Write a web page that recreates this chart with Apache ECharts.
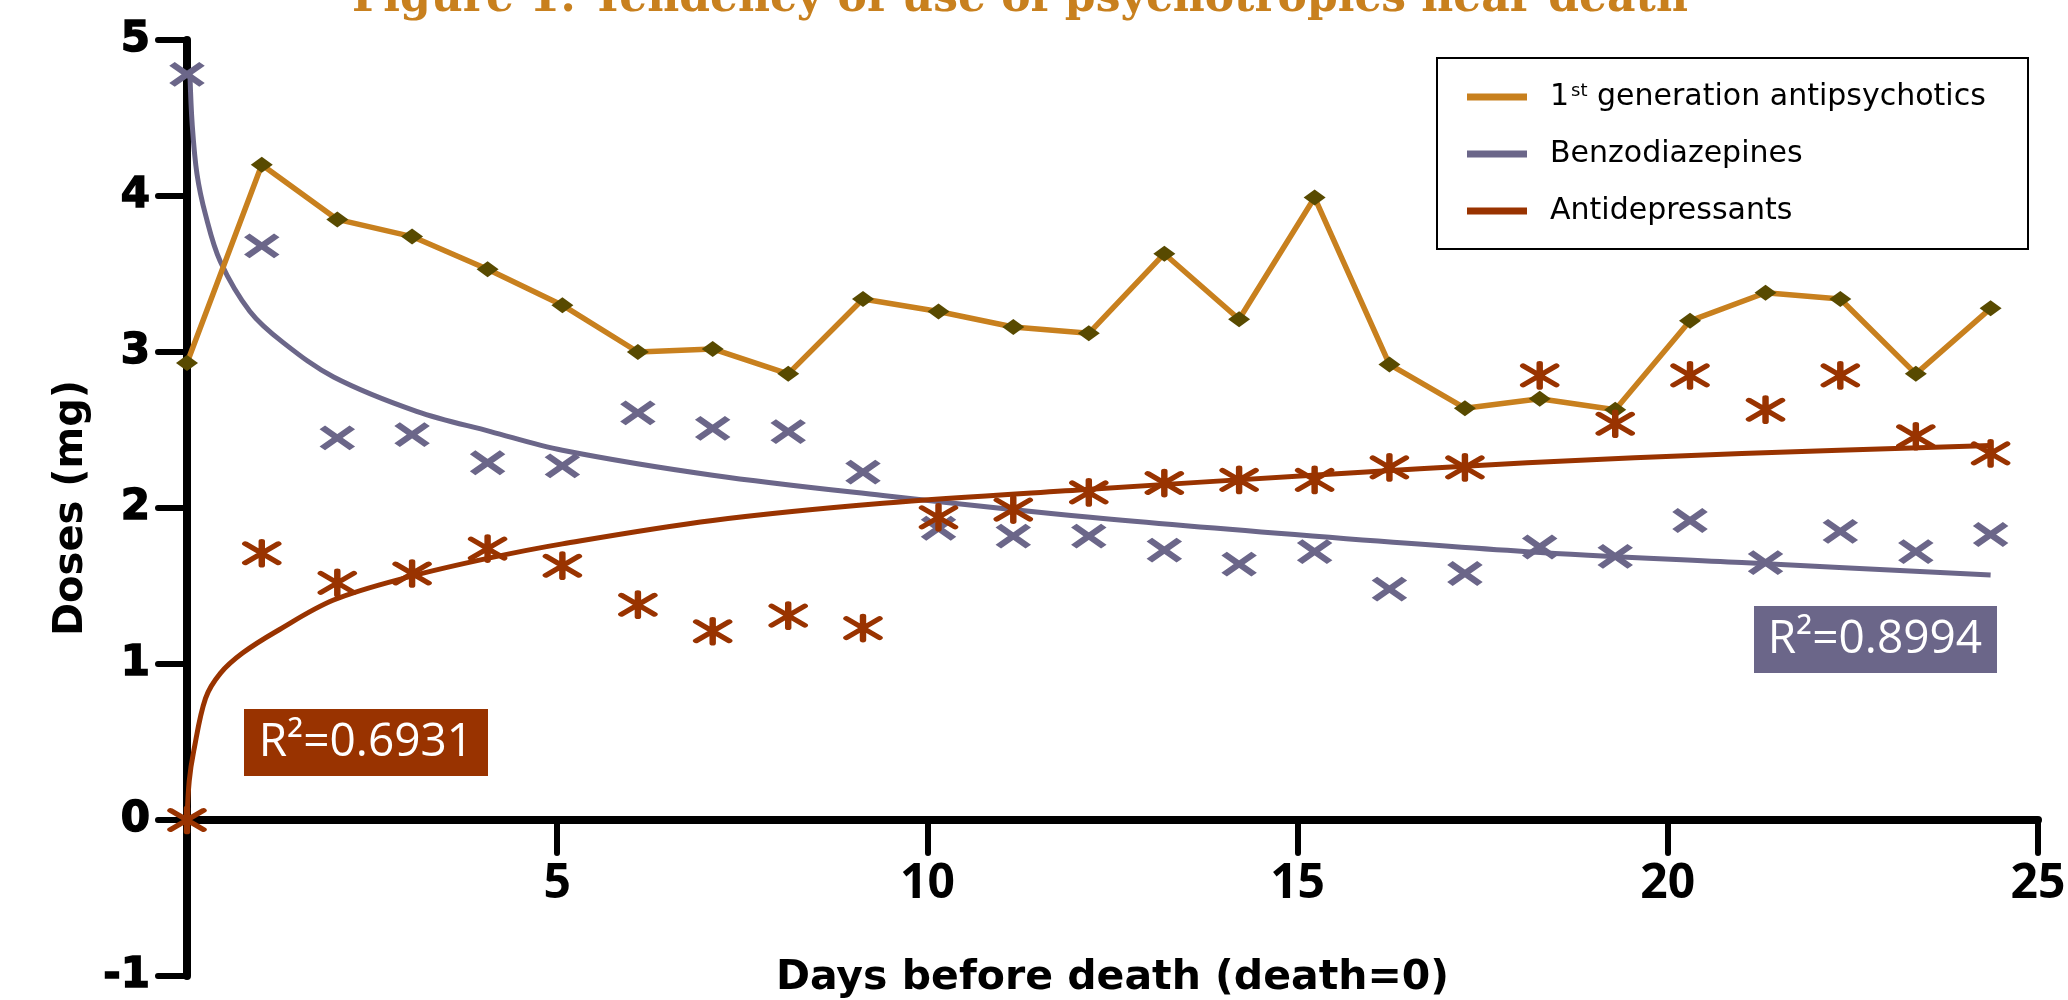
<!DOCTYPE html>
<html>
<head>
<meta charset="utf-8">
<script src="https://cdn.jsdelivr.net/npm/echarts@6/dist/echarts.min.js"></script>
<style>
html,body{margin:0;padding:0;background:#fff;}
#chart{width:2068px;height:1000px;}
</style>
</head>
<body>
<div id="chart"></div>
<script>
// ---- data ----
var days = [0, 1.01, 2.03, 3.04, 4.06, 5.07, 6.09, 7.1, 8.12, 9.13, 10.15, 11.16, 12.18, 13.2, 14.21, 15.23, 16.24, 17.26, 18.27, 19.29, 20.3, 21.32, 22.33, 23.35, 24.36];
var antipsychotics = [2.93, 4.20, 3.85, 3.74, 3.53, 3.30, 3.00, 3.02, 2.86, 3.34, 3.26, 3.16, 3.12, 3.63, 3.21, 3.99, 2.92, 2.64, 2.70, 2.63, 3.20, 3.38, 3.34, 2.86, 3.28];
var benzodiazepines = [4.78, 3.68, 2.45, 2.47, 2.29, 2.27, 2.61, 2.51, 2.49, 2.23, 1.87, 1.82, 1.82, 1.73, 1.64, 1.72, 1.48, 1.58, 1.75, 1.69, 1.92, 1.65, 1.85, 1.72, 1.83];
var antidepressants = [0.0, 1.71, 1.52, 1.58, 1.74, 1.63, 1.38, 1.21, 1.31, 1.23, 1.94, 1.99, 2.10, 2.16, 2.18, 2.18, 2.26, 2.26, 2.85, 2.54, 2.85, 2.63, 2.85, 2.46, 2.35];
// fitted trend curves
var benzoTrendX = [0.04, 0.07, 0.135, 0.25, 0.45, 0.85, 1.3, 1.98, 3.1, 4.1, 5.07, 7.1, 9.4, 12.2, 15.2, 18.1, 21, 24.36];
var benzoTrendY = [4.78, 4.46, 4.14, 3.88, 3.58, 3.26, 3.06, 2.84, 2.62, 2.49, 2.37, 2.21, 2.08, 1.94, 1.82, 1.72, 1.65, 1.57];
var antidepTrendX = [0, 0.03, 0.09, 0.25, 0.45, 0.75, 1.21, 1.98, 3.01, 4.09, 5.07, 7.1, 9.4, 12.2, 15.2, 18.1, 21, 24.36];
var antidepTrendY = [0, 0.25, 0.44, 0.78, 0.94, 1.07, 1.21, 1.41, 1.56, 1.68, 1.77, 1.92, 2.03, 2.12, 2.21, 2.29, 2.35, 2.40];
var seriesNames = ['1st generation antipsychotics', 'Benzodiazepines', 'Antidepressants'];
var r2Labels = ['R²=0.6931', 'R²=0.8994'];
var titleText = 'Figure 1: Tendency of use of psychotropics near death';
var xAxisName = 'Days before death (death=0)';
var yAxisName = 'Doses (mg)';

function pairs(xs, ys) { return xs.map(function (x, i) { return [x, ys[i]]; }); }

var ORANGE = '#C8801E', OLIVE = '#584A00', PURPLE = '#6B6689', RUST = '#993300';

// grid geometry; the x axis is drawn at y = 0 by shifting it up from the grid bottom
var GRID = { left: 187, right: 30, top: 40, bottom: 24 };
var Y_MIN = -1, Y_MAX = 5;
var gridH = 1000 - GRID.top - GRID.bottom;
var xAxisOffset = -gridH * (0 - Y_MIN) / (Y_MAX - Y_MIN);

var chart = echarts.init(document.getElementById('chart'), null, { renderer: 'canvas' });
var option = {
  animation: false,
  backgroundColor: '#ffffff',
  title: {
    text: titleText,
    left: 1015,
    top: -27,
    textAlign: 'center',
    textStyle: { fontFamily: 'DejaVu Serif', fontWeight: 'bold', fontSize: 44, color: ORANGE }
  },
  grid: { left: GRID.left, right: GRID.right, top: GRID.top, bottom: GRID.bottom, containLabel: false, outerBoundsMode: 'none' },
  xAxis: {
    type: 'value', min: 0, max: 25, interval: 5,
    offset: xAxisOffset,
    name: xAxisName, nameLocation: 'middle', nameGap: 138,
    nameTextStyle: { fontFamily: 'DejaVu Sans', fontWeight: 'bold', fontSize: 41, color: '#000' },
    axisLine: { onZero: false, lineStyle: { color: '#000', width: 8 } },
    axisTick: { show: true, length: 33, lineStyle: { color: '#000', width: 6, cap: 'round' } },
    axisLabel: { showMinLabel: false, margin: 40, fontFamily: 'Open Sans', fontWeight: 'bold', fontSize: 48, color: '#000' },
    splitLine: { show: false }
  },
  yAxis: {
    type: 'value', min: Y_MIN, max: Y_MAX, interval: 1,
    name: yAxisName, nameLocation: 'middle', nameGap: 88,
    nameTextStyle: { fontFamily: 'DejaVu Sans', fontWeight: 'bold', fontSize: 40, color: '#000' },
    axisLine: { onZero: false, lineStyle: { color: '#000', width: 8 } },
    axisTick: { show: true, length: 29, lineStyle: { color: '#000', width: 6, cap: 'round' } },
    axisLabel: { margin: 37, fontFamily: 'DejaVu Sans', fontWeight: 'bold', fontSize: 42, color: '#000', textBorderColor: '#000', textBorderWidth: 1.5 },
    splitLine: { show: false }
  },
  legend: {
    orient: 'vertical', left: 1467, top: 77, padding: 0,
    itemWidth: 60, itemHeight: 7, itemGap: 27, selectedMode: false,
    data: [
      { name: seriesNames[0], icon: 'rect', itemStyle: { color: ORANGE } },
      { name: seriesNames[1], icon: 'rect', itemStyle: { color: PURPLE } },
      { name: seriesNames[2], icon: 'rect', itemStyle: { color: RUST } }
    ],
    formatter: function (name) {
      if (name === seriesNames[0]) return '{n|1}{sup|st}{n| generation antipsychotics}';
      return '{n|' + name + '}';
    },
    textStyle: {
      padding: [0, 0, 0, 18], color: '#000',
      rich: {
        n: { fontFamily: 'DejaVu Sans', fontSize: 30, lineHeight: 40, color: '#000' },
        sup: { fontFamily: 'DejaVu Sans', fontSize: 18, lineHeight: 18, verticalAlign: 'top', padding: [5, 0, 0, 2], color: '#000' }
      }
    }
  },
  series: [
    {
      name: seriesNames[0], type: 'line', z: 3,
      data: pairs(days, antipsychotics),
      lineStyle: { color: ORANGE, width: 5.5 },
      symbol: 'diamond', symbolSize: [22, 16], showSymbol: true,
      itemStyle: { color: OLIVE }
    },
    {
      name: seriesNames[1], type: 'line', z: 2,
      data: pairs(benzoTrendX, benzoTrendY), smooth: 0.35,
      showSymbol: false, symbol: 'none',
      lineStyle: { color: PURPLE, width: 5 }, itemStyle: { color: PURPLE }
    },
    {
      name: seriesNames[2], type: 'line', z: 2,
      data: pairs(antidepTrendX, antidepTrendY), smooth: 0.35,
      showSymbol: false, symbol: 'none',
      lineStyle: { color: RUST, width: 5 }, itemStyle: { color: RUST }
    },
    {
      name: 'Benzodiazepines (observed)', type: 'scatter', z: 4,
      data: pairs(days, benzodiazepines),
      symbol: 'path://M0,0L10,7M10,0L0,7', symbolSize: [30, 21],
      itemStyle: { color: 'rgba(0,0,0,0)', borderColor: PURPLE, borderWidth: 6.5, opacity: 1 }
    },
    {
      name: 'Antidepressants (observed)', type: 'scatter', z: 4,
      data: pairs(days, antidepressants),
      symbol: 'path://M0,0L12,8M12,0L0,8M6,-1L6,9', symbolSize: [33, 24],
      itemStyle: { color: 'rgba(0,0,0,0)', borderColor: RUST, borderWidth: 5.5, borderCap: 'round', opacity: 1 }
    }
  ],
  graphic: [
    { type: 'rect', z: 10, shape: { x: 1437, y: 58, width: 591, height: 191 }, style: { fill: 'none', stroke: '#000', lineWidth: 2 } },
    { type: 'rect', z: 10, shape: { x: 244, y: 709, width: 244, height: 67 }, style: { fill: RUST } },
    { type: 'text', z: 11, x: 366, y: 743, style: { text: r2Labels[0], fill: '#fff', fontFamily: 'Open Sans', fontSize: 46, align: 'center', verticalAlign: 'middle', textAlign: 'center', textVerticalAlign: 'middle' } },
    { type: 'rect', z: 10, shape: { x: 1754, y: 606, width: 243, height: 67 }, style: { fill: PURPLE } },
    { type: 'text', z: 11, x: 1875, y: 640, style: { text: r2Labels[1], fill: '#fff', fontFamily: 'Open Sans', fontSize: 46, align: 'center', verticalAlign: 'middle', textAlign: 'center', textVerticalAlign: 'middle' } }
  ]
};
chart.setOption(option);
</script>
</body>
</html>
